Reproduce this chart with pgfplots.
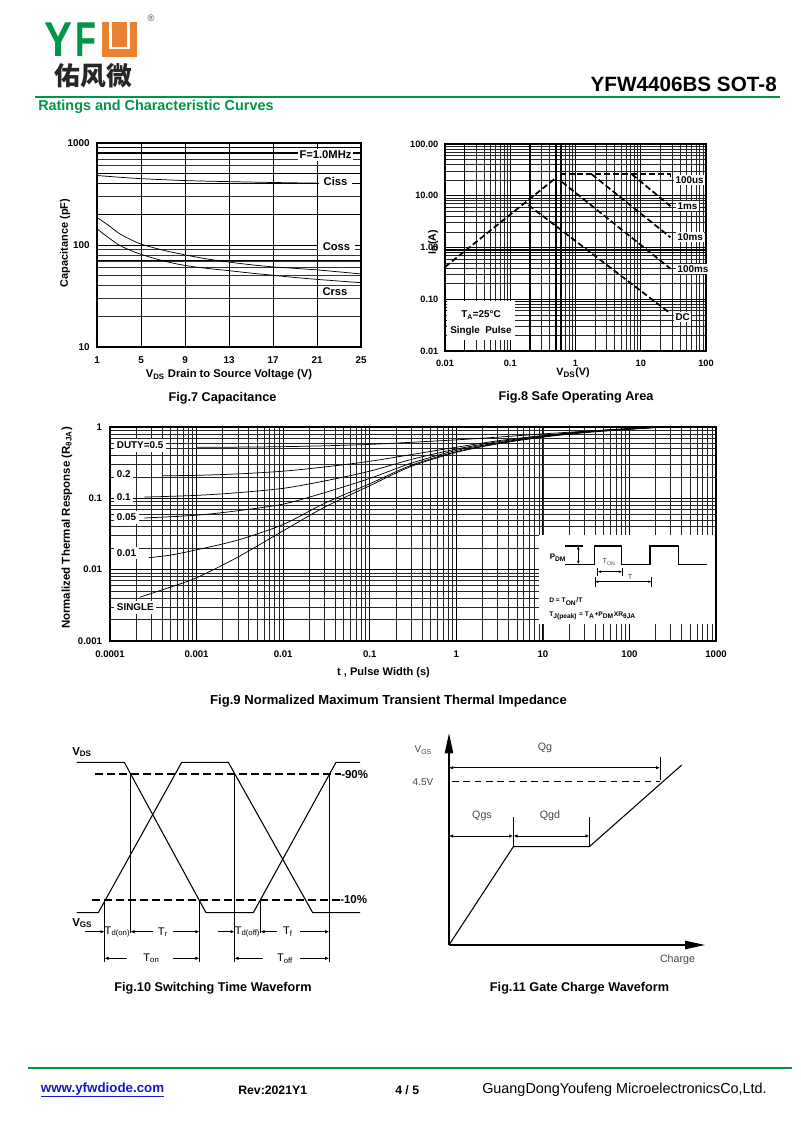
\documentclass[border=0pt]{standalone}
\usepackage{fontspec}
\setmainfont{Liberation Sans}
\newfontfamily\cjk{Noto Sans CJK SC}
\usepackage{pgfplots}
\pgfplotsset{compat=1.18}
\usetikzlibrary{arrows.meta}
\definecolor{yfgreen}{RGB}{0,150,72}
\definecolor{yforange}{RGB}{232,130,50}
\definecolor{linkblue}{RGB}{25,25,200}
\definecolor{txtgray}{RGB}{70,70,70}
\newcommand{\fs}[1]{\fontsize{#1}{#1}\selectfont}
\pgfplotsset{
  ds/.style={scale only axis, anchor=south west,
    axis line style={black,line width=0.8pt},
    tick style={draw=none},
    major tick length=0pt, minor tick length=0pt,
    tick label style={font=\fs{7.2}\bfseries},
    xticklabel style={text height=5.2pt, text depth=0pt},
    /pgf/number format/assume math mode=true,
    major grid style={black,line width=0.6pt},
    minor grid style={black!80,line width=0.4pt},
  },
  curve/.style={black,line width=0.55pt,smooth,no marks},
  soa/.style={black,line width=1.3pt,dash pattern=on 4.5pt off 2.2pt,no marks},
}
\begin{document}
\begin{tikzpicture}
\path[use as bounding box] (0,0) rectangle (600pt,847.5pt);
\fill[white] (0,0) rectangle (600pt,847.5pt);

% ---------------- Fig.7 Capacitance
\begin{axis}[ds, at={(72.75pt,587.25pt)}, width=198pt, height=153pt,
  xmin=1,xmax=25, ymode=log, ymin=10,ymax=1000,
  xtick={1,5,9,13,17,21,25}, ytick={10,100,1000}, yticklabels={10,100,1000},
  xticklabels={1,5,9,13,17,21,25},
  tick label style={font=\fs{7.4}\bfseries},
  xmajorgrids, ymajorgrids, yminorgrids,
  xticklabel style={yshift=-3.5pt}, yticklabel style={xshift=-2pt},
  extra y ticks={70,200,400,500,800,900}, extra y tick labels={,,,,,},
  extra y tick style={ymajorgrids=true, major grid style={black,line width=1pt}},
]
\addplot[curve] coordinates {(1,480) (3,462) (5,447) (9,428) (13,418) (17,410) (21,404) (25,400)};
\addplot[curve] coordinates {(1,186) (2,157) (3,130) (4,114) (5,102) (7,89) (9,80) (11,73) (13,68) (15,64) (17,61) (19,59) (21,57) (23,54.5) (25,52)};
\addplot[curve] coordinates {(1,144) (2,119) (3,100) (4,89) (5,81) (7,70) (9,63) (11,59) (13,56) (15,53) (17,50.5) (19,48) (21,46) (23,44.3) (25,42.7)};
\end{axis}

% ---------------- Fig.8 SOA
\begin{axis}[ds, at={(333.75pt,584.25pt)}, width=195.75pt, height=155.25pt,
  xmode=log, ymode=log, xmin=0.01,xmax=100, ymin=0.01,ymax=100,
  xtick={0.01,0.1,1,10,100}, xticklabels={0.01,0.1,1,10,100},
  ytick={0.01,0.1,1,10,100}, yticklabels={0.01,0.10,1.00,10.00,100.00},
  grid=both, tick label style={font=\fs{6.9}\bfseries},
  major grid style={black,line width=0.8pt},
  minor grid style={black!85,line width=0.45pt},
  xticklabel style={yshift=-3pt}, yticklabel style={xshift=-1.5pt},
  extra x ticks={0.02,0.2,0.5,0.6}, extra x tick labels={,,,},
  extra y ticks={0.09,0.8,0.9}, extra y tick labels={,,},
  extra tick style={grid=major, major grid style={black,line width=1.1pt}},
]
\addplot[soa] coordinates {(0.01,0.42) (0.52,23)};
\addplot[soa] coordinates {(0.57,26) (28.5,26) (28.5,20)};
\addplot[soa] coordinates {(7.3,26) (28.5,6.3)};
\addplot[soa] coordinates {(1.77,26) (28.5,1.57)};
\addplot[soa] coordinates {(0.62,18.5) (28.5,0.39)};
\addplot[soa] coordinates {(0.19,6.6) (28.5,0.053)};
\end{axis}

% ---------------- Fig.9 Transient thermal impedance
\begin{axis}[ds, at={(82.5pt,366.75pt)}, width=454.5pt, height=160.5pt,
  xmode=log, ymode=log, xmin=1e-4, xmax=1000, ymin=0.001, ymax=1,
  xtick={1e-4,1e-3,1e-2,1e-1,1,10,100,1000},
  xticklabels={0.0001,0.001,0.01,0.1,1,10,100,1000},
  ytick={0.001,0.01,0.1,1}, yticklabels={0.001,0.01,0.1,1},
  grid=both,
  major grid style={black,line width=0.55pt},
  minor grid style={black!85,line width=0.4pt},
  xticklabel style={yshift=-3.8pt}, yticklabel style={xshift=-2.5pt},
]
\addplot[curve] coordinates {(0.00022,0.0041) (0.0005,0.0057) (0.001,0.0077) (0.003,0.015) (0.01,0.035) (0.03,0.075) (0.1,0.15) (0.3,0.28) (1,0.44) (3,0.58) (10,0.72) (30,0.83) (100,0.93) (250,1.0)};
\addplot[curve] coordinates {(0.00028,0.0147) (0.0005,0.016) (0.001,0.019) (0.003,0.026) (0.01,0.043) (0.03,0.085) (0.1,0.16) (0.3,0.29) (1,0.45) (3,0.59) (10,0.73) (30,0.84) (100,0.93) (250,1.0)};
\addplot[curve] coordinates {(0.00025,0.053) (0.001,0.058) (0.003,0.067) (0.01,0.083) (0.03,0.12) (0.1,0.19) (0.3,0.31) (1,0.47) (3,0.6) (10,0.74) (30,0.85) (100,0.94) (250,1.0)};
\addplot[curve] coordinates {(0.00025,0.104) (0.001,0.11) (0.003,0.12) (0.01,0.138) (0.03,0.175) (0.1,0.24) (0.3,0.35) (1,0.49) (3,0.62) (10,0.75) (30,0.86) (100,0.94) (250,1.0)};
\addplot[curve] coordinates {(0.0004,0.207) (0.001,0.21) (0.003,0.22) (0.01,0.24) (0.03,0.275) (0.1,0.33) (0.3,0.41) (1,0.52) (3,0.64) (10,0.76) (30,0.86) (100,0.95) (250,1.0)};
\addplot[curve] coordinates {(0.001,0.52) (0.003,0.522) (0.01,0.53) (0.03,0.545) (0.1,0.57) (0.3,0.61) (1,0.66) (3,0.72) (10,0.8) (30,0.87) (100,0.95) (250,1.0)};
\end{axis}

% ---------------- Page layer (pixel coordinates)
\begin{axis}[at={(0pt,0pt)}, anchor=south west, scale only axis, width=600pt, height=847.5pt,
  xmin=0,xmax=800,ymin=0,ymax=1130, y dir=reverse, axis lines=none, ticks=none, clip=false]
% header
\node[anchor=base west, inner sep=0, font=\fs{36.7}\bfseries, text=yfgreen, xscale=0.86] at (44,57) {Y};
\node[anchor=base west, inner sep=0, font=\fs{36.7}\bfseries, text=yfgreen, xscale=0.70] at (75,57) {F};
\fill[yforange] (102,22) rectangle (137,57);
\draw[white, line width=1.6pt] (110.5,21) -- (110.5,48) -- (128.5,48) -- (128.5,21);
\node[font=\fs{7}, text=black!70, inner sep=0] at (151,18) {®};
\node[font=\cjk\bfseries\fs{19.3}, text=black!85, inner sep=0] at (93.5,75.5) {佑风微};
\node[anchor=east, font=\fs{15.5}\bfseries, inner sep=0] at (777,84) {YFW4406BS SOT-8};
\draw[yfgreen, line width=1.6pt] (35,97) -- (780,97);
\node[anchor=west, font=\fs{10.8}\bfseries, text=yfgreen, inner sep=0] at (38,106.5) {Ratings and Characteristic Curves};

% fig 7 labels
\node[font=\fs{8.4}\bfseries] at (229,375) {V\textsubscript{DS} Drain to Source Voltage (V)};
\node[font=\fs{8.2}\bfseries, rotate=90] at (65,243) {Capacitance (pF)};
\node[font=\fs{8.4}\bfseries, fill=white, inner sep=1.5pt] at (325.5,155) {F=1.0MHz};
\node[font=\fs{8.4}\bfseries, fill=white, inner xsep=3.4pt, inner ysep=1.5pt] at (335.5,181) {Ciss};
\node[font=\fs{8.4}\bfseries, fill=white, inner xsep=3.4pt, inner ysep=1.5pt] at (336.5,247) {Coss};
\node[font=\fs{8.4}\bfseries, fill=white, inner xsep=3.4pt, inner ysep=1.5pt] at (335,292) {Crss};
\node[font=\fs{9.5}\bfseries] at (222.5,398) {Fig.7 Capacitance};

% fig 8 labels
\node[font=\fs{8}\bfseries, rotate=90] at (433,242) {I\textsubscript{D}(A)};
\node[font=\fs{8}\bfseries] at (573,373) {V\textsubscript{DS}(V)};
\node[anchor=west, fill=white, inner sep=1pt, font=\fs{7.4}\bfseries] at (674,180) {100us};
\node[anchor=west, fill=white, inner sep=1pt, font=\fs{7.4}\bfseries] at (676,206) {1ms};
\node[anchor=west, fill=white, inner sep=1pt, font=\fs{7.4}\bfseries] at (676,237) {10ms};
\node[anchor=west, fill=white, inner sep=1pt, font=\fs{7.4}\bfseries] at (676,269) {100ms};
\node[anchor=west, fill=white, inner sep=1pt, font=\fs{7.4}\bfseries] at (674,317) {DC};
\fill[white] (447,301) rectangle (515,340);
\node[font=\fs{7.4}\bfseries] at (481,315) {T\textsubscript{A}=25°C};
\node[font=\fs{7.4}\bfseries] at (481,331) {Single\ \ Pulse};
\node[font=\fs{9.5}\bfseries] at (576,397) {Fig.8 Safe Operating Area};

% fig 9 labels
\node[anchor=west, fill=white, font=\fs{7.4}\bfseries, inner sep=2pt] at (114,445.5) {DUTY=0.5};
\node[anchor=west, fill=white, font=\fs{7.4}\bfseries, inner sep=2pt] at (114,474) {0.2};
\node[anchor=west, fill=white, font=\fs{7.4}\bfseries, inner sep=2pt] at (114,497.5) {0.1};
\node[anchor=west, fill=white, font=\fs{7.4}\bfseries, inner sep=2pt] at (114,517.5) {0.05};
\node[anchor=west, fill=white, font=\fs{7.4}\bfseries, inner sep=2pt] at (114,553) {0.01};
\node[anchor=west, fill=white, font=\fs{7.4}\bfseries, inner sep=2pt] at (114,607.5) {SINGLE};
\node[font=\fs{8.6}\bfseries, rotate=90] at (67,528) {Normalized Thermal Response (R\textsubscript{θJA})};
\node[font=\fs{8.3}\bfseries] at (383.5,673) {t , Pulse Width (s)};
\node[font=\fs{9.8}\bfseries] at (388.5,701) {Fig.9 Normalized Maximum Transient Thermal Impedance};
% inset
\fill[white] (539,535) rectangle (715,624);
\addplot[black, line width=1pt, no marks] coordinates {(565,564.3) (594.3,564.3) (594.3,546) (621.7,546) (621.7,564.3) (650,564.3) (650,546) (678.3,546) (678.3,564.3) (706.7,564.3)};
\draw[black, line width=0.8pt] (565,546) -- (583,546);
\draw[{Latex[length=2.5pt,width=2pt]}-{Latex[length=2.5pt,width=2pt]}, line width=0.6pt] (578.3,546) -- (578.3,564.3);
\draw[{Latex[length=2.5pt,width=2pt]}-{Latex[length=2.5pt,width=2pt]}, line width=0.6pt] (597.7,571.7) -- (622.3,571.7);
\draw[line width=0.5pt] (597.7,568) -- (597.7,575.5) (622.3,568) -- (622.3,575.5);
\draw[{Latex[length=2.5pt,width=2pt]}-{Latex[length=2.5pt,width=2pt]}, line width=0.6pt] (595,581.7) -- (651.7,581.7);
\draw[line width=0.5pt] (595,577) -- (595,586.5) (651.7,577) -- (651.7,586.5);
\node[font=\fs{6}\bfseries] at (558,558) {P\textsubscript{DM}};
\node[font=\fs{5.5}, text=txtgray] at (609,562) {T\textsubscript{ON}};
\node[font=\fs{5.5}, text=txtgray] at (630,577) {T};
\node[anchor=west, font=\fs{5}\bfseries, inner sep=0] at (549,601.7) {D = T\textsubscript{ON}/T};
\node[anchor=west, font=\fs{5}\bfseries, inner sep=0] at (549,616) {T\textsubscript{J(peak)} = T\textsubscript{A}+P\textsubscript{DM}XR\textsubscript{θJA}};

% ---------------- Fig.10 switching waveform
\addplot[black, line width=0.8pt, no marks] coordinates {(76.7,762.3) (124.3,762.3) (206,912.7) (253.3,912.7) (336,762.3) (360,762.3)};
\addplot[black, line width=0.8pt, no marks] coordinates {(76.7,912.7) (98.3,912.7) (181.7,762.3) (228.3,762.3) (312.7,912.7) (360,912.7)};
\draw[black, line width=1.4pt, dash pattern=on 6pt off 3pt] (95,774.3) -- (341,774.3);
\draw[black, line width=1.4pt, dash pattern=on 6pt off 3pt] (91.7,900) -- (340,900);
\node[anchor=west, font=\fs{8.6}\bfseries, inner sep=0] at (341,774.3) {-90\%};
\node[anchor=west, font=\fs{8.6}\bfseries, inner sep=0] at (340,900) {-10\%};
\draw[black, line width=0.8pt] (104.5,900) -- (104.5,962) (130.5,774.3) -- (130.5,933) (199.3,900) -- (199.3,962)
  (234.5,774.3) -- (234.5,962) (260.5,900) -- (260.5,933) (329.2,774.3) -- (329.2,962);
\node[anchor=west, font=\fs{8.6}\bfseries, inner sep=0] at (72,752) {V\textsubscript{DS}};
\node[anchor=west, font=\fs{8.6}\bfseries, inner sep=0] at (72,923) {V\textsubscript{GS}};
\tikzset{arr/.style={-{Latex[length=3pt,width=2.6pt]}, line width=0.6pt}}
\draw[arr] (85,931.7) -- (104.5,931.7);
\draw[arr] (153,931.7) -- (130.5,931.7);
\draw[arr] (173,931.7) -- (199.3,931.7);
\draw[arr] (218,931.7) -- (234.5,931.7);
\draw[arr] (277,931.7) -- (260.5,931.7);
\draw[arr] (300,931.7) -- (329.2,931.7);
\draw[arr] (127,958.3) -- (104.5,958.3);
\draw[arr] (173,958.3) -- (199.3,958.3);
\draw[arr] (263,958.3) -- (234.5,958.3);
\draw[arr] (300,958.3) -- (329.2,958.3);
\node[font=\fs{8.3}] at (117.5,932) {T\textsubscript{d(on)}};
\node[font=\fs{8.3}] at (163,932) {T\textsubscript{r}};
\node[font=\fs{8.3}] at (247.5,932) {T\textsubscript{d(off)}};
\node[font=\fs{8.3}] at (288,932) {T\textsubscript{f}};
\node[font=\fs{8.3}] at (151.5,958.5) {T\textsubscript{on}};
\node[font=\fs{8.3}] at (285,958.5) {T\textsubscript{off}};
\node[font=\fs{9.5}\bfseries] at (213,988) {Fig.10 Switching Time Waveform};

% ---------------- Fig.11 gate charge
\draw[black, line width=0.8pt, -{Triangle[length=15pt,width=6.3pt]}] (449,945) -- (449,733.3);
\draw[black, line width=0.8pt, -{Triangle[length=15pt,width=6.3pt]}] (449,945) -- (705,945);
\addplot[black, line width=0.8pt, no marks] coordinates {(449,945) (513.3,846.7) (589.3,846.7) (681.7,765)};
\node[font=\fs{7.5}, text=txtgray] at (423.3,750) {V\textsubscript{GS}};
\node[font=\fs{8}, text=txtgray] at (545,748) {Qg};
\node[font=\fs{7.5}, text=txtgray] at (423,781.7) {4.5V};
\node[font=\fs{8}, text=txtgray] at (482,816) {Qgs};
\node[font=\fs{8}, text=txtgray] at (550,816) {Qgd};
\node[font=\fs{8}, text=txtgray] at (677.5,960) {Charge};
\tikzset{darr/.style={{Latex[length=3pt,width=2.6pt]}-{Latex[length=3pt,width=2.6pt]}, line width=0.6pt}}
\draw[darr] (449,767.7) -- (660,767.7);
\draw[line width=0.6pt] (660,756.7) -- (660,780);
\draw[black, line width=0.7pt, dash pattern=on 5pt off 3.5pt] (452,781.7) -- (660,781.7);
\draw[darr] (449,836) -- (513,836);
\draw[darr] (513.6,836) -- (589.3,836);
\draw[line width=0.6pt] (513.3,816.7) -- (513.3,846.7) (589.3,816.7) -- (589.3,846.7);
\node[font=\fs{9.5}\bfseries] at (579.5,988) {Fig.11 Gate Charge Waveform};

% ---------------- footer
\draw[yfgreen, line width=1.8pt] (28,1068) -- (792,1068);
\node[anchor=west, font=\fs{10}\bfseries, text=linkblue, inner sep=0] at (40.7,1090) {\underline{www.yfwdiode.com}};
\node[anchor=west, font=\fs{9.2}\bfseries, inner sep=0] at (238,1090) {Rev:2021Y1};
\node[anchor=west, font=\fs{9.2}\bfseries, inner sep=0] at (395,1090) {4 / 5};
\node[anchor=west, font=\fs{10.8}, inner sep=0] at (482,1090) {GuangDongYoufeng MicroelectronicsCo,Ltd.};
\end{axis}
\end{tikzpicture}
\end{document}
